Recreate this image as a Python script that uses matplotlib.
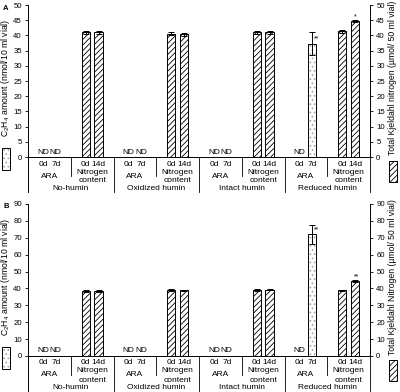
#!/usr/bin/env python3

import matplotlib

matplotlib.use("Agg")
import matplotlib.pyplot as plt
import matplotlib.transforms as mtransforms
from matplotlib.patches import Rectangle

plt.rcParams["font.family"] = ["Liberation Sans", "DejaVu Sans"]
plt.rcParams["font.size"] = 6
plt.rcParams["mathtext.fontset"] = "custom"
plt.rcParams["mathtext.rm"] = "Liberation Sans"
plt.rcParams["hatch.linewidth"] = 0.6

groups = ["No-humin", "Oxidized humin", "Intact humin", "Reduced humin"]
ara_days = ["0d", "7d"]
n_days = ["0d", "14d"]

# Panel A
a_ara_7d = [None, None, None, 37.3]  # None = not detected
a_ara_7d_err = [0, 0, 0, 3.8]
a_n_0d = [41.0, 40.5, 41.0, 41.4]
a_n_0d_err = [0.5, 0.5, 0.4, 0.5]
a_n_14d = [41.0, 40.3, 41.0, 44.7]
a_n_14d_err = [0.6, 0.6, 0.4, 0.4]
a_sig_ara = ["", "", "", "**"]
a_sig_n14 = ["", "", "", "*"]

# Panel B
b_ara_7d = [None, None, None, 72.2]
b_ara_7d_err = [0, 0, 0, 5.6]
b_n_0d = [38.6, 38.9, 39.2, 38.8]
b_n_0d_err = [0.6, 0.7, 0.5, 0.4]
b_n_14d = [38.7, 38.8, 39.3, 44.5]
b_n_14d_err = [0.6, 0.4, 0.5, 0.4]
b_sig_ara = ["", "", "", "**"]
b_sig_n14 = ["", "", "", "**"]

W, H = 400, 392
AX_H = 152  # axes height in px
OFF = 0.15
BW = 0.19


def px(dy):
    # pixel offset below axis -> axes fraction
    return -dy / AX_H


def dotted_bar(ax, x, h):
    ax.bar(x, h, BW, color="white", edgecolor="#9a9a9a", hatch="....", linewidth=0, zorder=2)
    ax.bar(x, h, BW, color="none", edgecolor="black", linewidth=0.7, zorder=3)


def draw_panel(ax, ymax, ystep, ara_7d, ara_err, n0, n0_err, n14, n14_err,
               sig_ara, sig_n14, right_label, letter, top_px):
    ax.set_xlim(-0.5, 7.5)
    ax.set_ylim(0, ymax)
    ax.set_yticks(range(0, ymax + 1, ystep))
    ax.set_xticks([])
    for s in ["top", "right"]:
        ax.spines[s].set_visible(False)
    for s in ["left", "bottom"]:
        ax.spines[s].set_linewidth(0.7)
    ax.tick_params(axis="y", length=2, width=0.6, pad=2.5, labelsize=5.6)

    axr = ax.twinx()
    axr.set_ylim(0, ymax)
    axr.set_yticks(range(0, ymax + 1, ystep))
    for s in ["top", "left", "bottom"]:
        axr.spines[s].set_visible(False)
    axr.spines["right"].set_linewidth(0.7)
    axr.tick_params(axis="y", length=2, width=0.6, pad=2.5, labelsize=5.6)

    trans = mtransforms.blended_transform_factory(ax.transData, ax.transAxes)
    ekw = dict(ecolor="black", elinewidth=0.7, capsize=2, capthick=0.7, zorder=4)

    for i, g in enumerate(groups):
        ca = 2 * i
        cn = 2 * i + 1

        # ARA
        ax.text(ca - OFF, px(-5), "ND", ha="center", va="center", transform=trans)
        if ara_7d[i] is None:
            ax.text(ca + OFF, px(-5), "ND", ha="center", va="center", transform=trans)
        else:
            dotted_bar(ax, ca + OFF, ara_7d[i])
            ax.errorbar(ca + OFF, ara_7d[i], yerr=ara_err[i], fmt="none", **ekw)
            if sig_ara[i]:
                ax.text(ca + OFF + 0.03, ara_7d[i] + 0.4 * ara_err[i], sig_ara[i],
                        ha="left", va="center", fontsize=5)

        # Nitrogen content
        ax.bar(cn - OFF, n0[i], BW, color="white", edgecolor="black", hatch="//////",
               linewidth=0.7, zorder=2)
        ax.bar(cn + OFF, n14[i], BW, color="white", edgecolor="black", hatch="//////",
               linewidth=0.7, zorder=2)
        ax.errorbar([cn - OFF, cn + OFF], [n0[i], n14[i]], yerr=[n0_err[i], n14_err[i]],
                    fmt="none", **ekw)
        if sig_n14[i]:
            ax.text(cn + OFF - 0.02, n14[i] + n14_err[i], sig_n14[i],
                    ha="left", va="bottom", fontsize=5)

        # category labels
        ax.text(ca - OFF, px(7), ara_days[0], ha="center", va="center", transform=trans)
        ax.text(ca + OFF, px(7), ara_days[1], ha="center", va="center", transform=trans)
        ax.text(ca, px(19), "ARA", ha="center", va="center", transform=trans)
        ax.text(cn - OFF, px(7), n_days[0], ha="center", va="center", transform=trans)
        ax.text(cn + OFF, px(7), n_days[1], ha="center", va="center", transform=trans)
        ax.text(cn, px(15), "Nitrogen", ha="center", va="center", transform=trans)
        ax.text(cn, px(24), "content", ha="center", va="center", transform=trans)
        ax.text(ca + 0.5, px(31.5), g, ha="center", va="center", transform=trans)

        # separators
        ax.plot([ca + 0.5, ca + 0.5], [0, px(19)], color="black", lw=0.6,
                transform=trans, clip_on=False)
        ax.plot([cn + 0.5, cn + 0.5], [0, px(35)], color="black", lw=0.6,
                transform=trans, clip_on=False)
    ax.plot([-0.5, -0.5], [0, px(35)], color="black", lw=0.7,
            transform=trans, clip_on=False)

    ax.set_ylabel(r"$\mathregular{C_2H_4}$ amount (nmol/10 ml vial)", fontsize=6.2)
    ax.yaxis.set_label_coords(-0.046, 0.52)
    axr.set_ylabel(right_label, rotation=90, fontsize=6.2)
    axr.yaxis.set_label_coords(1.053, 0.52)

    fig.text(3 / W, 1 - (top_px + 3) / H, letter, fontsize=5.5, fontweight="bold",
             ha="left", va="center")

    # legend keys beside the axis labels
    bot = top_px + AX_H
    fig.add_artist(Rectangle((2 / W, 1 - (bot + 13) / H), 8 / W, 22 / H,
                             transform=fig.transFigure, facecolor="white",
                             edgecolor="#9a9a9a", hatch="....", linewidth=0))
    fig.add_artist(Rectangle((2 / W, 1 - (bot + 13) / H), 8 / W, 22 / H,
                             transform=fig.transFigure, facecolor="none",
                             edgecolor="black", linewidth=0.7))
    fig.add_artist(Rectangle((389 / W, 1 - (bot + 25) / H), 8 / W, 21 / H,
                             transform=fig.transFigure, facecolor="white",
                             edgecolor="black", hatch="//////", linewidth=0.7))


fig = plt.figure(figsize=(W / 100, H / 100), dpi=100)
axA = fig.add_axes([28 / W, 1 - 157 / H, 342 / W, AX_H / H])
axB = fig.add_axes([28 / W, 1 - 356 / H, 342 / W, AX_H / H])

draw_panel(axA, 50, 5, a_ara_7d, a_ara_7d_err, a_n_0d, a_n_0d_err, a_n_14d, a_n_14d_err,
           a_sig_ara, a_sig_n14, "Total Kjeldahl nitrogen (µmol/ 50 ml vial)", "A", 5)
draw_panel(axB, 90, 10, b_ara_7d, b_ara_7d_err, b_n_0d, b_n_0d_err, b_n_14d, b_n_14d_err,
           b_sig_ara, b_sig_n14, "Total Kjeldahl Nitrogen (µmol/ 50 ml vial)", "B", 204)

fig.savefig("out.png", dpi=100)
